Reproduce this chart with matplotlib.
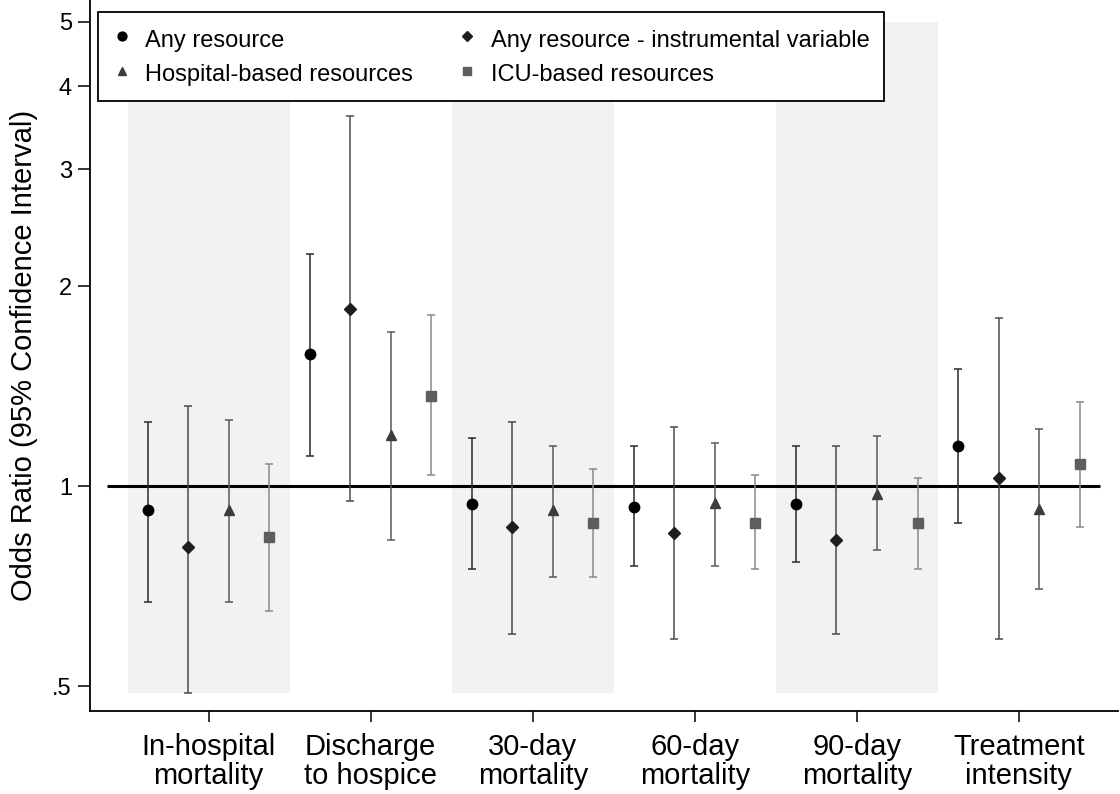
import numpy as np
import matplotlib
matplotlib.use("Agg")
import matplotlib.pyplot as plt

plt.rcParams["font.family"] = ["Liberation Sans", "DejaVu Sans"]

groups = ["In-hospital\nmortality", "Discharge\nto hospice", "30-day\nmortality",
          "60-day\nmortality", "90-day\nmortality", "Treatment\nintensity"]

series_names = ["Any resource", "Any resource - instrumental variable",
                "Hospital-based resources", "ICU-based resources"]

# odds ratios and 95% CI, one list per series (6 outcomes each)
any_or = [0.920, 1.580, 0.940, 0.930, 0.940, 1.149]
any_lo = [0.669, 1.109, 0.750, 0.758, 0.768, 0.880]
any_hi = [1.248, 2.234, 1.181, 1.149, 1.149, 1.500]

iv_or = [0.810, 1.847, 0.868, 0.850, 0.829, 1.028]
iv_lo = [0.489, 0.949, 0.599, 0.589, 0.600, 0.589]
iv_hi = [1.319, 3.600, 1.248, 1.227, 1.149, 1.789]

hosp_or = [0.920, 1.193, 0.920, 0.943, 0.973, 0.923]
hosp_lo = [0.669, 0.829, 0.730, 0.758, 0.801, 0.700]
hosp_hi = [1.257, 1.705, 1.149, 1.161, 1.189, 1.218]

icu_or = [0.838, 1.366, 0.880, 0.880, 0.880, 1.079]
icu_lo = [0.649, 1.039, 0.730, 0.750, 0.750, 0.868]
icu_hi = [1.079, 1.809, 1.061, 1.039, 1.028, 1.338]

y_ticks = [0.5, 1, 2, 3, 4, 5]
y_tick_labels = [".5", "1", "2", "3", "4", "5"]

series = [
    (any_or, any_lo, any_hi, "o", 7.5, "#000000", "#2a2a2a"),
    (iv_or, iv_lo, iv_hi, "D", 6.5, "#1e1e1e", "#4a4a4a"),
    (hosp_or, hosp_lo, hosp_hi, "^", 7.5, "#3c3c3c", "#5a5a5a"),
    (icu_or, icu_lo, icu_hi, "s", 6.5, "#5e5e5e", "#8a8a8a"),
]

fig = plt.figure(figsize=(11.2, 7.94), dpi=100)
ax = fig.add_axes([90 / 1120, 1 - 711 / 794, (1118 - 90) / 1120, 711 / 794])
ax.set_yscale("log")

n_groups = len(groups)
n_series = len(series)

# shaded bands behind every other outcome
for g in range(0, n_groups, 2):
    left = g * n_series + 0.5
    ax.fill_between([left, left + n_series], 0.488, 5.0, color="#f2f2f2",
                    linewidth=0, zorder=0)

ax.hlines(1, 0, n_groups * n_series + 0.5, color="black", linewidth=2.2, zorder=2)

for i, (val, lo, hi, mk, ms, mc, ec) in enumerate(series):
    x = np.arange(n_groups) * n_series + i + 1
    val = np.array(val)
    err = [val - np.array(lo), np.array(hi) - val]
    ax.errorbar(x, val, yerr=err, fmt="none", ecolor=ec, elinewidth=1.1,
                capsize=3, capthick=1.1, zorder=3)
    ax.plot(x, val, linestyle="none", marker=mk, markersize=ms, color=mc,
            markeredgecolor=mc, label=series_names[i], zorder=4)

ax.set_xlim(-0.43, 24.95)
ax.set_ylim(0.459, 5.39)
ax.set_yticks(y_ticks)
ax.set_yticklabels(y_tick_labels)
ax.yaxis.set_minor_locator(matplotlib.ticker.NullLocator())
ax.set_xticks(np.arange(n_groups) * n_series + 2.5)
ax.set_xticklabels(groups, fontsize=21, linespacing=1.05)
ax.tick_params(axis="y", labelsize=17, length=9, width=1.1, pad=4)
ax.tick_params(axis="x", length=8, width=1.1, pad=8)
ax.set_ylabel("Odds Ratio (95% Confidence Interval)", fontsize=21, labelpad=10)

for side in ["top", "right"]:
    ax.spines[side].set_visible(False)
for side in ["left", "bottom"]:
    ax.spines[side].set_linewidth(1.3)

handles, labels = ax.get_legend_handles_labels()
order = [0, 2, 1, 3]
leg = ax.legend([handles[k] for k in order], [labels[k] for k in order],
                loc="upper left", bbox_to_anchor=(98 / 1120, 1 - 12 / 794),
                bbox_transform=fig.transFigure, ncol=2, fontsize=17,
                frameon=True, fancybox=False, edgecolor="black",
                framealpha=1, handlelength=0.8, handletextpad=0.6,
                handleheight=1.25, columnspacing=1.9, borderpad=0.6,
                labelspacing=0.4, borderaxespad=0, markerscale=0.85)
leg.get_frame().set_linewidth(1.3)

fig.savefig("out.png", dpi=100)
